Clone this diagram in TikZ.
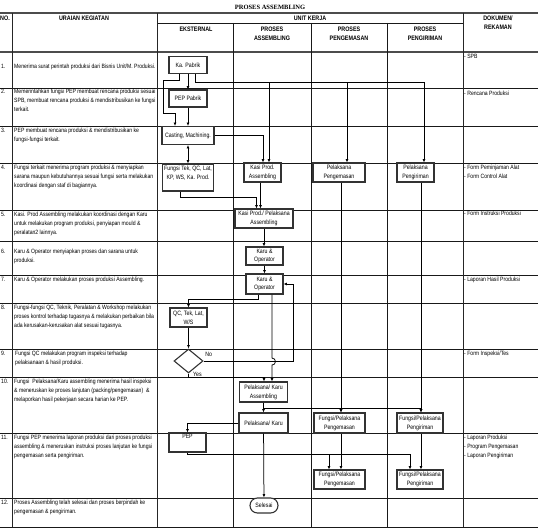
\documentclass[tikz,border=0pt]{standalone}
\usepackage{fontspec}
\setmainfont{Liberation Sans}[FakeStretch=0.83]
\newfontfamily\titlefont{Liberation Serif}
\usetikzlibrary{arrows.meta,shapes.geometric}

\begin{document}
\begin{tikzpicture}[x=1pt,y=-1pt,
  grid/.style={line width=0.7pt, draw=black!90},
  gridmajor/.style={line width=0.95pt, draw=black!85},
  gridbold/.style={line width=1.3pt, draw=black!70},
  hdr/.style={font=\fontsize{6.5}{9}\selectfont\bfseries, align=center, inner sep=0pt},
  txt/.style={font=\fontsize{6.15}{9}\selectfont, align=left, anchor=north west, inner sep=0pt},
  lbl/.style={font=\fontsize{6.3}{8}\selectfont, inner sep=0pt},
  boxfont/.style={font=\fontsize{6.3}{8.9}\selectfont},
  box/.style={boxfont, draw=black!80, line width=1.1pt, fill=white, inner sep=0.5pt, align=center},
  dec/.style={diamond, draw=black!80, line width=1.1pt, fill=white, inner sep=0pt,
              minimum width=29pt, minimum height=24pt},
  term/.style={box, rounded corners=7.5pt},
  conn/.style={line width=0.75pt, draw=black},
  arr/.style={conn, -{Latex[length=3.4pt,width=3pt]}},
  arrin/.style={conn, {Latex[length=3.4pt,width=3pt]}-},
  dblarr/.style={conn, {Latex[length=3.4pt,width=3pt]}-{Latex[length=3.4pt,width=3pt]}},
]
\useasboundingbox (0,0) rectangle (538,529);

% ---------- title ----------
\node[font=\titlefont\bfseries\fontsize{6.5}{8}\selectfont, inner sep=0pt] (title) at (270,7) {PROSES ASSEMBLING};

% ---------- table grid ----------
\draw[gridbold] (0,13) -- (538,13);
\draw[gridbold] (0,52) -- (538,52);
\draw[grid] (157,23) -- (463,23);
\foreach \yy in {88,126,163,210,241,275,303,349,377,433,498,527}
  \draw[grid] (0,\yy) -- (538,\yy);
\foreach \xx in {12,157,463}
  \draw[gridmajor] (\xx,13) -- (\xx,527);
\foreach \xx in {233,311,387}
  \draw[grid] (\xx,23) -- (\xx,527);

% ---------- header ----------
\node[hdr] (hno)   at (5,18)     {NO.};
\node[hdr] (hur)   at (84,18)    {URAIAN KEGIATAN};
\node[hdr] (hunit) at (310,18)   {UNIT KERJA};
\node[hdr] (heks)  at (196,29)   {EKSTERNAL};
\node[hdr] (hasm)  at (272,33.5) {PROSES\\ASSEMBLING};
\node[hdr] (hpem)  at (349,33.5) {PROSES\\PENGEMASAN};
\node[hdr] (hpir)  at (425,33.5) {PROSES\\PENGIRIMAN};
\node[hdr] (hdok)  at (498,22.5) {DOKUMEN/\\REKAMAN};

% ---------- activity column ----------
\node[txt] (n1)  at (1,64)  {1.};
\node[txt] (t1)  at (14,64) {Menerima surat perintah produksi dari Bisnis Unit/M. Produksi.};
\node[txt] (n2)  at (1,89)  {2.};
\node[txt] (t2)  at (14,89) {Memerintahkan fungsi PEP membuat rencana produksi sesuai\\SPB, membuat rencana produksi \& mendistribusikan ke fungsi\\terkait.};
\node[txt] (n3)  at (1,128) {3.};
\node[txt] (t3)  at (14,128) {PEP membuat rencana produksi \& mendistribusikan ke\\fungsi-fungsi terkait.};
\node[txt] (n4)  at (1,165) {4.};
\node[txt] (t4)  at (14,165) {Fungsi terkait menerima program produksi \& menyiapkan\\sarana maupun kebutuhannya sesuai fungsi serta melakukan\\koordinasi dengan staf di bagiannya.};
\node[txt] (n5)  at (1,212) {5.};
\node[txt] (t5)  at (14,212) {Kasi. Prod Assembling melakukan koordinasi dengan Karu\\untuk melakukan program produksi, penyiapan mould \&\\peralatan2 lainnya.};
\node[txt] (n6)  at (1,249) {6.};
\node[txt] (t6)  at (14,249) {Karu \& Operator menyiapkan proses dan sarana untuk\\produksi.};
\node[txt] (n7)  at (1,277) {7.};
\node[txt] (t7)  at (14,277) {Karu \& Operator melakukan proses produksi Assembling.};
\node[txt] (n8)  at (1,305) {8.};
\node[txt] (t8)  at (14,305) {Fungsi-fungsi QC, Teknik, Peralatan \& Workshop melakukan\\proses kontrol terhadap tugasnya \& melakukan perbaikan bila\\ada kerusakan-kerusakan alat sesuai tugasnya.};
\node[txt] (n9)  at (1,351) {9.};
\node[txt] (t9)  at (15,351) {Fungsi QC melakukan program inspeksi terhadap\\pelaksanaan \& hasil produksi.};
\node[txt] (n10) at (1,379) {10.};
\node[txt] (t10) at (14,379) {Fungsi\ \ Pelaksana/Karu assembling menerima hasil inspeksi\\\& meneruskan ke proses lanjutan (packing/pengemasan)\ \ \&\\melaporkan hasil pekerjaan secara harian ke PEP.};
\node[txt] (n11) at (1,435) {11.};
\node[txt] (t11) at (14,435) {Fungsi PEP menerima laporan produksi dari proses produksi\\assembling \& meneruskan instruksi proses lanjutan ke fungsi\\pengemasan serta pengiriman.};
\node[txt] (n12) at (1,500) {12.};
\node[txt] (t12) at (14,500) {Proses Assembling telah selesai dan proses berpindah ke\\pengemasan \& pengiriman.};

% ---------- records column ----------
\node[txt] (d1) at (464,54)  {- SPB};
\node[txt] (d2) at (464,91)  {- Rencana Produksi};
\node[txt] (d4) at (464,165) {- Form Peminjaman Alat\\- Form Control Alat};
\node[txt] (d5) at (464,211) {- Form Instruksi Produksi};
\node[txt] (d7) at (464,277) {- Laporan Hasil Produksi};
\node[txt] (d9) at (464,351) {- Form Inspeksi/Tes};
\node[txt] (d11) at (464,435) {- Laporan Produksi\\- Program Pengemasan\\- Laporan Pengiriman};

% ---------- flow nodes ----------
\node[box, minimum width=38pt, minimum height=17pt] (kap)  at (188,65)    {Ka. Pabrik};
\node[box, minimum width=38pt, minimum height=17pt] (pepp) at (188,98.5)  {PEP Pabrik};
\node[box, minimum width=52pt, minimum height=18pt] (cast) at (188,135.5) {Casting, Machining.};
\node[box, minimum width=51pt, minimum height=27pt,
      label={[boxfont, align=center, inner sep=0pt, anchor=north, yshift=-2pt]north:{Fungsi Tek, QC, Lat,\\KP, WS, Ka. Prod.}}] (fung) at (188,177.5) {};
\node[box, minimum width=37pt, minimum height=19pt] (kasi) at (262.5,172.5) {Kasi Prod.\\Assembling};
\node[box, minimum width=52pt, minimum height=19pt] (pkem) at (339,172.5)   {Pelaksana\\Pengemasan};
\node[box, minimum width=37pt, minimum height=19pt] (pkir) at (415.5,172.5) {Pelaksana\\Pengiriman};
\node[box, minimum width=58pt, minimum height=19pt] (kpa)  at (264,218.5)   {Kasi Prod./ Pelaksana\\Assembling};
\node[box, minimum width=37pt, minimum height=18pt] (karu1) at (264.5,256)  {Karu \&\\Operator};
\node[box, minimum width=37pt, minimum height=20pt] (karu2) at (264.5,284)  {Karu \&\\Operator};
\node[box, minimum width=37pt, minimum height=19pt] (qc)   at (188.5,317.5) {QC, Tek, Lat,\\W/S};
\node[dec] (dia) at (188.5,361) {};
\node[box, minimum width=48pt, minimum height=20pt] (pka)  at (263.5,392)   {Pelaksana/ Karu\\Assembling};
\node[box, minimum width=49pt, minimum height=20pt] (pk)   at (263.5,423)   {Pelaksana/ Karu};
\node[box, minimum width=51pt, minimum height=20pt] (fpem1) at (339.5,423)  {Fungsi/Pelaksana\\Pengemasan};
\node[box, minimum width=46pt, minimum height=20pt] (fpir1) at (420,423)    {Fungsi/Pelaksana\\Pengiriman};
\node[box, minimum width=37pt, minimum height=19pt,
      label={[boxfont, inner sep=0pt, anchor=north, yshift=-2pt]north:PEP}] (pep) at (187.5,442.5) {};
\node[box, minimum width=51pt, minimum height=19pt] (fpem2) at (339.5,479.5) {Fungsi/Pelaksana\\Pengemasan};
\node[box, minimum width=46pt, minimum height=19pt] (fpir2) at (420,479.5)   {Fungsi/Pelaksana\\Pengiriman};
\node[term, minimum width=28pt, minimum height=15pt] (sel) at (264,505.5) {Selesai};

\node[lbl, anchor=west] (nolbl)  at ([shift={(1.5,-6.5)}]dia.east) {No};
\node[lbl, anchor=west] (yeslbl) at ([shift={(4.5,0.5)}]dia.south) {Yes};

% ---------- connectors ----------
\draw[arr] (kap) -- (pepp);
\draw[arr] ([xshift=-9pt]kap.south) -- ++(0,6.5) -| ++(-16,33) -| ([xshift=-13pt]cast.north);
\draw[arr] (pepp) -- (cast);
\draw[arr] ([xshift=7pt]kap.south) -- ++(0,8.5) coordinate (bus1) -| ([xshift=8.5pt]pkir.north);
\draw[arrin] ([xshift=6.5pt]kasi.north) |- (bus1);
\draw[arrin] ([xshift=8pt]pkem.north) |- (bus1);
\draw[arr] (cast.east) -| ([xshift=0.5pt]kasi.north);
\draw[dblarr] (cast) -- (fung);
\draw[arr] ([xshift=-2pt]kasi.south) -- ([xshift=-2pt]kasi.south |- kpa.north);
\draw[arr] ([xshift=-8pt]fung.south) -- ++(0,6) -| ([xshift=-7.5pt]kpa.north);
\draw[arr] (kpa.south) -- (kpa.south |- karu1.north);
\draw[arr] (karu1) -- (karu2);
\draw[arr] ([xshift=-6.5pt]karu2.south) -- ++(0,5) -| (qc.north);
\draw[arr] (qc) -- (dia);
\draw[arr] (dia.east) -| ([xshift=10pt]karu2.east) -- (karu2.east);
\draw[arr] (dia.south) -- ++(0,4) -| ([xshift=0.5pt]pka.north);
\draw[arr] ([xshift=7.5pt]karu2.south) -- ++(0,63.5) arc[start angle=-90, end angle=90, radius=3.5] -- ([xshift=8.5pt]pka.north);
\draw[arr] (pka) -- (pk);
\draw[arr] ([yshift=-6pt]pka.south) coordinate (bus2) -| ([xshift=1.5pt]fpem1.north);
\draw[arr] (bus2) -| ([xshift=1pt]fpir1.north);
\draw[arr] ([xshift=2pt]pkem.south) -- ([xshift=2pt]pkem.south |- fpem1.north);
\draw[arr] ([xshift=5.5pt]pkir.south) -- ([xshift=5.5pt]pkir.south |- fpir1.north);
\draw[arr] (pk.west) -| (pep.north);
\draw[arr] (pep.south) -- ++(0,2) coordinate (bus3) -| ([xshift=-10pt]fpir2.north);
\draw[arrin] ([xshift=-10.5pt]fpem2.north) |- (bus3);
\draw[arr] ([xshift=1.5pt]fpem1.south) -- ([xshift=1.5pt]fpem2.north);
\draw[arr] ([xshift=1pt]fpir1.south) -- ([xshift=1pt]fpir2.north);
\draw[arr] (pk) -- (sel);
\end{tikzpicture}
\end{document}
